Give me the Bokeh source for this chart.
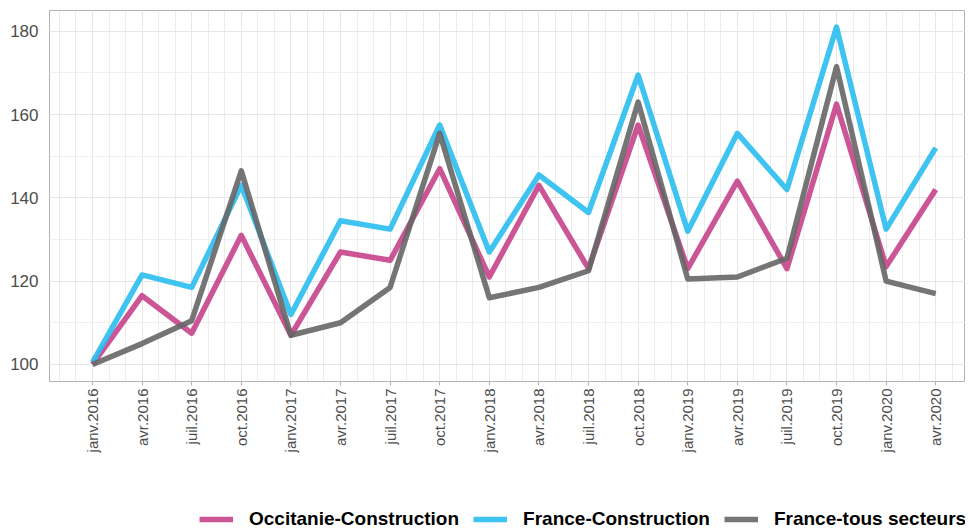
import math
from bokeh.plotting import figure
from bokeh.layouts import column
from bokeh.models import FixedTicker, Legend, LegendItem, Range1d
from bokeh.embed import file_html
from bokeh.resources import INLINE

# ---- data ----
quarters = ["janv.2016", "avr.2016", "juil.2016", "oct.2016",
            "janv.2017", "avr.2017", "juil.2017", "oct.2017",
            "janv.2018", "avr.2018", "juil.2018", "oct.2018",
            "janv.2019", "avr.2019", "juil.2019", "oct.2019",
            "janv.2020", "avr.2020"]
occitanie_construction = [100, 116.5, 107.5, 131, 107, 127, 125, 147,
                          121, 143, 123, 157.5, 123, 144, 123, 162.5, 123.5, 142]
france_construction = [100.5, 121.5, 118.5, 143, 112, 134.5, 132.5, 157.5,
                       127, 145.5, 136.5, 169.5, 132, 155.5, 142, 181, 132.5, 152]
france_tous_secteurs = [100, 105, 110.5, 146.5, 107, 110, 118.5, 155.5,
                        116, 118.5, 122.5, 163, 120.5, 121, 125.5, 171.5, 120, 117]
series_names = ["Occitanie-Construction", "France-Construction", "France-tous secteurs"]
series_colors = ["#C6428A", "#2ABDEF", "#666666"]

# month index: months since jan 2016
x = [3 * i for i in range(len(quarters))]
all_months = list(range(-3, 55))

FONT = "Liberation Sans"
LINE_W = 5.5
LINE_A = 0.9

p = figure(frame_width=916, frame_height=371, output_backend="svg",
           toolbar_location=None, min_border_left=49, min_border_right=0,
           min_border_top=10, min_border_bottom=80,
           x_range=Range1d(-2.6, 51 + 1.8), y_range=Range1d(95.9, 185.0))

p.background_fill_color = "white"
p.border_fill_color = "white"
p.outline_line_color = "#b3b3b3"
p.outline_line_width = 1

p.xaxis.ticker = FixedTicker(ticks=x, minor_ticks=all_months)
p.xaxis.major_label_overrides = {xi: lab for xi, lab in zip(x, quarters)}
p.xaxis.major_label_orientation = math.pi / 2
p.xaxis.major_label_text_font = FONT
p.xaxis.major_label_text_font_size = "15px"
p.xaxis.major_label_text_color = "#4d4d4d"
p.xaxis.axis_line_color = None
p.xaxis.major_tick_line_color = "#b3b3b3"
p.xaxis.major_tick_out = 4
p.xaxis.major_tick_in = 0
p.xaxis.minor_tick_line_color = None
p.xaxis.major_label_standoff = 3

p.yaxis.ticker = FixedTicker(ticks=[100, 120, 140, 160, 180],
                             minor_ticks=[90, 110, 130, 150, 170, 190])
p.yaxis.major_label_text_font = FONT
p.yaxis.major_label_text_font_size = "17px"
p.yaxis.major_label_text_color = "#4d4d4d"
p.yaxis.axis_line_color = None
p.yaxis.major_tick_line_color = None
p.yaxis.minor_tick_line_color = None
p.yaxis.major_label_standoff = 5

p.xgrid.grid_line_color = "#e6e6e6"
p.xgrid.minor_grid_line_color = "#ececec"
p.ygrid.grid_line_color = "#e6e6e6"
p.ygrid.minor_grid_line_color = "#f0f0f0"

for vals, col in zip([occitanie_construction, france_construction, france_tous_secteurs],
                     series_colors):
    p.line(x, vals, line_color=col, line_width=LINE_W, line_alpha=LINE_A,
           line_join="round", line_cap="butt")

# ---- legend strip (separate figure below the chart) ----
lf = figure(width=965, height=69, output_backend="svg", toolbar_location=None,
            x_axis_location=None, y_axis_location=None,
            min_border_left=0, min_border_right=0, min_border_top=0, min_border_bottom=0,
            x_range=Range1d(0, 1), y_range=Range1d(0, 1))
lf.outline_line_color = None
lf.grid.visible = False
lf.background_fill_color = "white"
lf.border_fill_color = "white"

# legend-only renderers: lie outside the visible range, only their swatches show
leg_renderers = []
for col in series_colors:
    leg_renderers.append(lf.line([5, 6], [5, 6], line_color=col, line_width=LINE_W,
                                 line_alpha=LINE_A, line_cap="butt"))

legend = Legend(items=[LegendItem(label=n, renderers=[r]) for n, r in zip(series_names, leg_renderers)],
                orientation="horizontal", location=(150, 0),
                glyph_width=34, glyph_height=16, label_standoff=16, spacing=14,
                padding=0, margin=0, border_line_color=None,
                background_fill_alpha=0,
                label_text_font=FONT, label_text_font_style="bold",
                label_text_font_size="19px", label_text_color="black")
lf.add_layout(legend, "center")

layout = column(p, lf, spacing=0)
open("out.html", "w").write(file_html(layout, INLINE))
